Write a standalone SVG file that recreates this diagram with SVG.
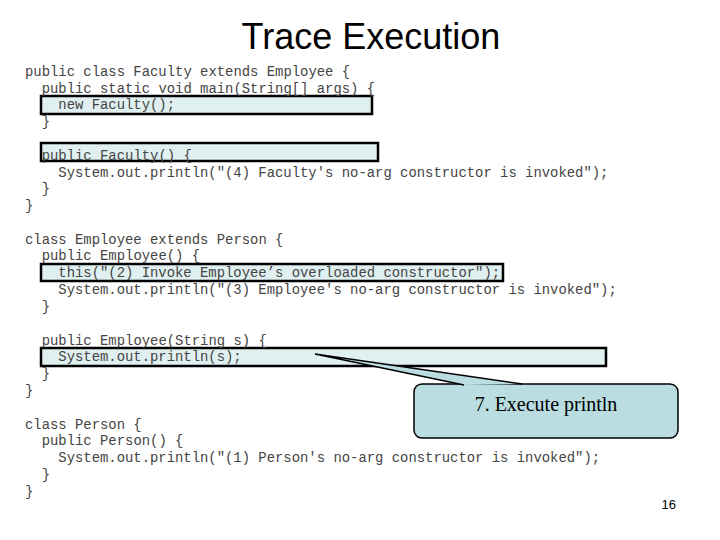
<svg xmlns="http://www.w3.org/2000/svg" width="720" height="540" viewBox="0 0 720 540">
<style>
.c{font-family:"Liberation Mono",monospace;font-size:13.9px;fill:#444;white-space:pre}
.h{fill:#e0f0f0;stroke:#000;stroke-width:2.5}
</style>
<rect width="720" height="540" fill="#fff"/>
<text x="371" y="49" text-anchor="middle" font-family="Liberation Sans,sans-serif" font-size="36" fill="#000">Trace Execution</text>
<g id="highlights">
<rect class="h" x="41" y="96" width="331" height="18"/>
<rect class="h" x="41" y="143" width="337" height="18"/>
<rect class="h" x="41" y="264" width="462" height="17"/>
<rect class="h" x="41" y="348" width="565" height="18"/>
</g>
<g id="code">
<text class="c" x="25" y="76">public class Faculty extends Employee {</text>
<text class="c" x="41.7" y="93">public static void main(String[] args) {</text>
<text class="c" x="58.3" y="109" fill="#888">new Faculty();</text>
<text class="c" x="41.7" y="126">}</text>
<text class="c" x="41.7" y="160" fill="#888">public Faculty() {</text>
<text class="c" x="58.3" y="177">System.out.println("(4) Faculty's no-arg constructor is invoked");</text>
<text class="c" x="41.7" y="193">}</text>
<text class="c" x="25" y="210">}</text>
<text class="c" x="25" y="244">class Employee extends Person {</text>
<text class="c" x="41.7" y="260">public Employee() {</text>
<text class="c" x="58.3" y="277" fill="#888">this("(2) Invoke Employee’s overloaded constructor");</text>
<text class="c" x="58.3" y="294">System.out.println("(3) Employee's no-arg constructor is invoked");</text>
<text class="c" x="41.7" y="311">}</text>
<text class="c" x="41.7" y="345">public Employee(String s) {</text>
<text class="c" x="58.3" y="361" fill="#888">System.out.println(s);</text>
<text class="c" x="41.7" y="378">}</text>
<text class="c" x="25" y="395">}</text>
<text class="c" x="25" y="429">class Person {</text>
<text class="c" x="41.7" y="445">public Person() {</text>
<text class="c" x="58.3" y="462">System.out.println("(1) Person's no-arg constructor is invoked");</text>
<text class="c" x="41.7" y="479">}</text>
<text class="c" x="25" y="496">}</text>
</g>
<g id="callout">
<rect x="414" y="384" width="264" height="54" rx="8" fill="#b9dde1" stroke="#000" stroke-width="1.5"/>
<path d="M464,385 L315,354 L522,384" fill="#b9dde1" stroke="#000" stroke-width="1.5"/>
<text x="546" y="411" text-anchor="middle" font-family="Liberation Serif,serif" font-size="20" fill="#000">7. Execute println</text>
</g>
<text x="676" y="509" text-anchor="end" font-family="Liberation Sans,sans-serif" font-size="13" fill="#000">16</text>
</svg>
